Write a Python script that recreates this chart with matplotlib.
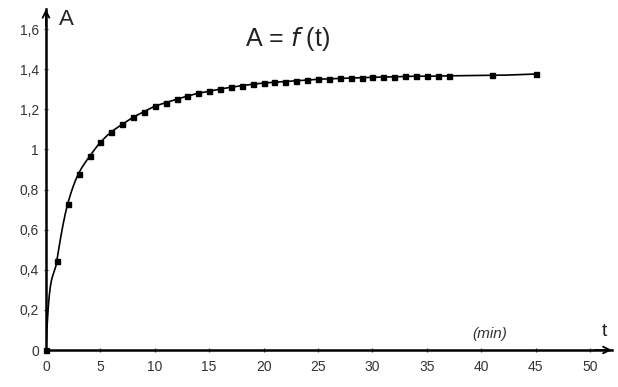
import numpy as np
import matplotlib.pyplot as plt

# absorbance readings, A versus time t (min)
t_min = [0, 1, 2, 3, 4, 5, 6, 7, 8, 9, 10, 11, 12, 13, 14, 15, 16, 17, 18, 19,
         20, 21, 22, 23, 24, 25, 26, 27, 28, 29, 30, 31, 32, 33, 34, 35, 36, 37,
         41, 45]
absorb = [0.0, 0.445, 0.729, 0.88, 0.965, 1.035, 1.087, 1.125, 1.16, 1.188,
          1.215, 1.233, 1.25, 1.266, 1.28, 1.29, 1.301, 1.31, 1.318, 1.325,
          1.331, 1.335, 1.338, 1.342, 1.346, 1.35, 1.352, 1.354, 1.356, 1.358,
          1.36, 1.361, 1.362, 1.364, 1.365, 1.365, 1.366, 1.367, 1.369, 1.376]

x_ticks = [0, 5, 10, 15, 20, 25, 30, 35, 40, 45, 50]
y_ticks = [0, 0.2, 0.4, 0.6, 0.8, 1.0, 1.2, 1.4, 1.6]
y_labels = ["0", "0,2", "0,4", "0,6", "0,8", "1", "1,2", "1,4", "1,6"]


def pchip(x, y, xs):
    # monotone cubic, only used to draw a smooth curve through the readings
    x = np.asarray(x, float)
    y = np.asarray(y, float)
    h = np.diff(x)
    d = np.diff(y) / h
    m = np.zeros_like(y)
    for k in range(1, len(x) - 1):
        if d[k - 1] * d[k] > 0:
            w1 = 2 * h[k] + h[k - 1]
            w2 = h[k] + 2 * h[k - 1]
            m[k] = (w1 + w2) / (w1 / d[k - 1] + w2 / d[k])
    m[0] = d[0] * 3
    m[-1] = d[-1]
    out = np.empty_like(xs)
    for i, v in enumerate(xs):
        k = min(np.searchsorted(x, v, side="right") - 1, len(x) - 2)
        s = (v - x[k]) / h[k]
        h00 = 2 * s**3 - 3 * s**2 + 1
        h10 = s**3 - 2 * s**2 + s
        h01 = -2 * s**3 + 3 * s**2
        h11 = s**3 - s**2
        out[i] = h00 * y[k] + h10 * h[k] * m[k] + h01 * y[k + 1] + h11 * h[k] * m[k + 1]
    return out


plt.rcParams['font.family'] = ['Liberation Sans', 'DejaVu Sans']

fig = plt.figure(figsize=(6.18, 3.87), dpi=100)
ax = fig.add_axes([0.0744, 0.0956, 0.9155, 0.881])

xs = np.linspace(0, 45, 900)
ax.plot(xs, pchip(t_min, absorb, xs), color='black', lw=1.2)
ax.plot(t_min, absorb, 's', color='black', ms=3.6, clip_on=False)

ax.set_xlim(0, 52)
ax.set_ylim(0, 1.7)
for s in ['top', 'right']:
    ax.spines[s].set_visible(False)
for s in ['left', 'bottom']:
    ax.spines[s].set_linewidth(1.8)

# open arrow heads on the axes
ax.annotate('', xy=(1.0, 0), xytext=(0.97, 0), xycoords='axes fraction',
            arrowprops=dict(arrowstyle='->', lw=1.3, color='black',
                            mutation_scale=12, shrinkA=0, shrinkB=0))
ax.annotate('', xy=(0, 1.0), xytext=(0, 0.95), xycoords='axes fraction',
            arrowprops=dict(arrowstyle='->', lw=1.3, color='black',
                            mutation_scale=12, shrinkA=0, shrinkB=0))

ax.set_xticks(x_ticks)
ax.set_yticks(y_ticks)
ax.set_yticklabels(y_labels)
ax.tick_params(axis='both', labelsize=10, colors='#333333', length=3,
               direction='inout', width=0.8)
ax.tick_params(axis='x', pad=6)

ax.text(1.2, 1.65, "A", fontsize=16, ha='left', va='center', color='#222222')
ax.text(22.2, 1.55, "A = $f$ (t)", fontsize=18, ha='center', va='center',
        color='#222222')
ax.text(39.2, 0.045, "(min)", fontsize=11, style='italic', ha='left', va='bottom',
        color='#333333')
ax.text(51.3, 0.05, "t", fontsize=14, ha='center', va='bottom', color='#222222')

fig.savefig("out.png", dpi=100)
